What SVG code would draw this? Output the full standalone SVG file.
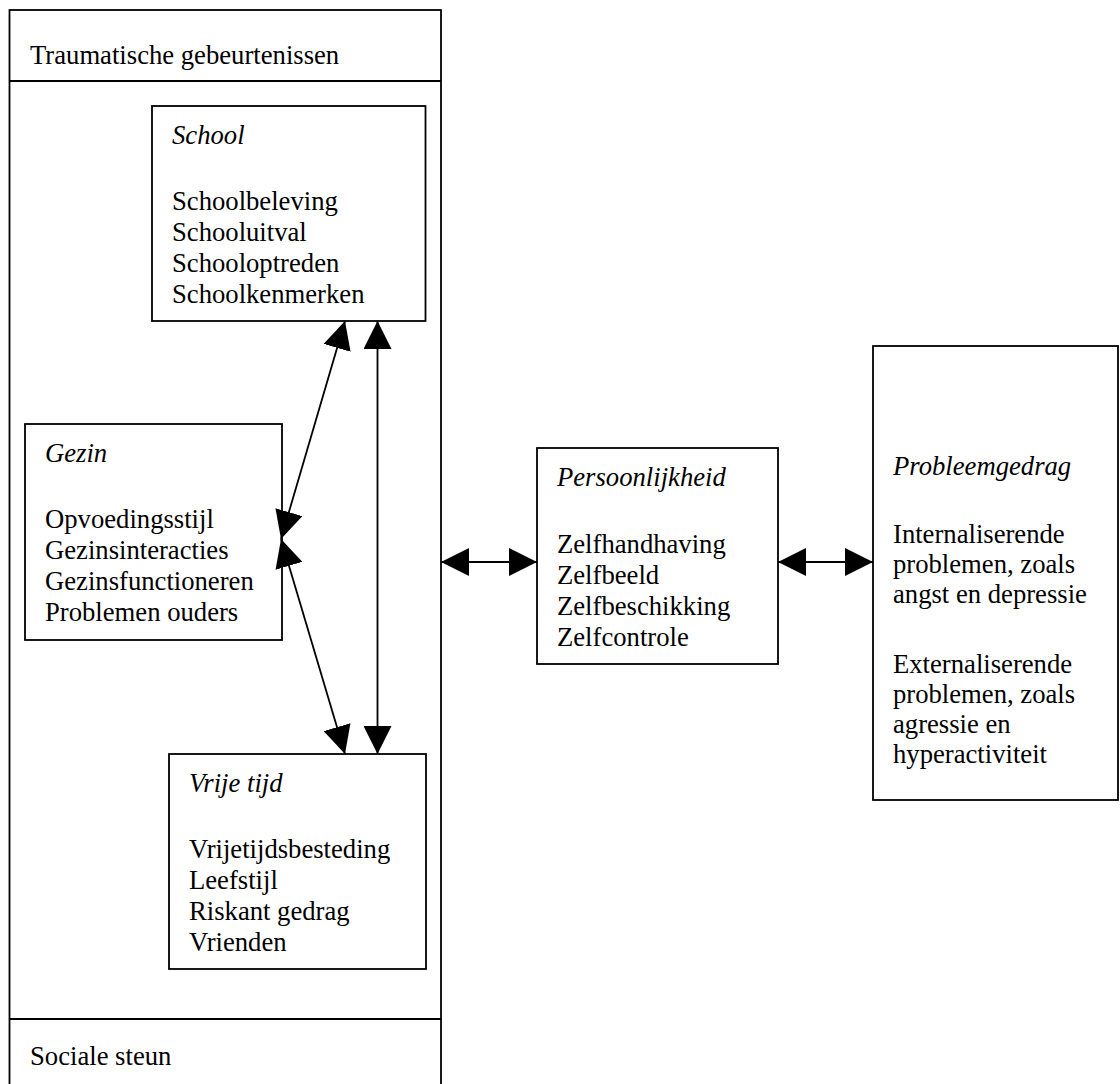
<svg xmlns="http://www.w3.org/2000/svg" width="1120" height="1084" viewBox="0 0 1120 1084">
<style>
.box{fill:none;stroke:#000;stroke-width:1.8}
.t{font-family:"Liberation Serif","Times New Roman",serif;font-size:26.67px;fill:#000}
.i{font-style:italic}
.c{stroke:#000;stroke-width:1.8;fill:none}
</style>
<defs>
<marker id="ah" markerUnits="userSpaceOnUse" markerWidth="28" markerHeight="28" viewBox="0 0 28 28" refX="28" refY="14" orient="auto-start-reverse">
<path d="M0,0 L28,14 L0,28 z" fill="#000"/>
</marker>
</defs>
<rect width="1120" height="1084" fill="#fff"/>
<g id="context">
<rect class="box" x="9.5" y="10" width="431.5" height="1090"/>
<line class="c" x1="9.5" y1="81" x2="441" y2="81"/>
<line class="c" x1="9.5" y1="1019" x2="441" y2="1019"/>
<text class="t" x="30" y="64">Traumatische gebeurtenissen</text>
<text class="t" x="30" y="1065">Sociale steun</text>
</g>
<g id="school">
<rect class="box" x="152" y="106" width="273.5" height="215"/>
<text class="t i" x="172" y="144">School</text>
<text class="t" x="172" y="210">Schoolbeleving</text>
<text class="t" x="172" y="241">Schooluitval</text>
<text class="t" x="172" y="272">Schooloptreden</text>
<text class="t" x="172" y="303">Schoolkenmerken</text>
</g>
<g id="gezin">
<rect class="box" x="25" y="424" width="257" height="216"/>
<text class="t i" x="45" y="462">Gezin</text>
<text class="t" x="45" y="528">Opvoedingsstijl</text>
<text class="t" x="45" y="559">Gezinsinteracties</text>
<text class="t" x="45" y="590">Gezinsfunctioneren</text>
<text class="t" x="45" y="621">Problemen ouders</text>
</g>
<g id="vrijetijd">
<rect class="box" x="169" y="754" width="257" height="215"/>
<text class="t i" x="189" y="792">Vrije tijd</text>
<text class="t" x="189" y="858">Vrijetijdsbesteding</text>
<text class="t" x="189" y="889">Leefstijl</text>
<text class="t" x="189" y="920">Riskant gedrag</text>
<text class="t" x="189" y="951">Vrienden</text>
</g>
<g id="persoonlijkheid">
<rect class="box" x="537" y="448" width="241" height="216"/>
<text class="t i" x="557" y="486">Persoonlijkheid</text>
<text class="t" x="557" y="553">Zelfhandhaving</text>
<text class="t" x="557" y="584">Zelfbeeld</text>
<text class="t" x="557" y="615">Zelfbeschikking</text>
<text class="t" x="557" y="646">Zelfcontrole</text>
</g>
<g id="probleemgedrag">
<rect class="box" x="873" y="346" width="245" height="454"/>
<text class="t i" x="893" y="475">Probleemgedrag</text>
<text class="t" x="893" y="543">Internaliserende</text>
<text class="t" x="893" y="573">problemen, zoals</text>
<text class="t" x="893" y="603">angst en depressie</text>
<text class="t" x="893" y="673">Externaliserende</text>
<text class="t" x="893" y="703">problemen, zoals</text>
<text class="t" x="893" y="733">agressie en</text>
<text class="t" x="893" y="763">hyperactiviteit</text>
</g>
<g id="connectors">
<line class="c" x1="281" y1="539" x2="345" y2="321" marker-start="url(#ah)" marker-end="url(#ah)"/>
<line class="c" x1="281" y1="539" x2="345" y2="754" marker-start="url(#ah)" marker-end="url(#ah)"/>
<line class="c" x1="377.5" y1="321" x2="377.5" y2="754" marker-start="url(#ah)" marker-end="url(#ah)"/>
<line class="c" x1="441" y1="562" x2="537" y2="562" marker-start="url(#ah)" marker-end="url(#ah)"/>
<line class="c" x1="778" y1="562" x2="873" y2="562" marker-start="url(#ah)" marker-end="url(#ah)"/>
</g>
</svg>
